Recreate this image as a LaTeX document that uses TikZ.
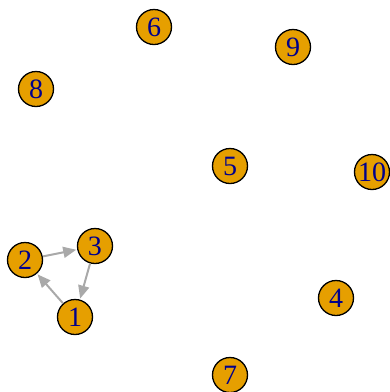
\documentclass[tikz,border=0pt]{standalone}
\usepackage{fontspec}
\setmainfont{Liberation Serif}
\usetikzlibrary{arrows.meta}
\definecolor{vfill}{HTML}{E69F00}
\definecolor{vlab}{RGB}{0,0,139}
\definecolor{egray}{HTML}{A9A9A9}
\begin{document}
\begin{tikzpicture}[x=1pt,y=-1pt,
  vert/.style={circle,draw=black,line width=1.3pt,fill=vfill,minimum size=35pt,inner sep=0pt,text=vlab,font=\fontsize{28}{28}\selectfont},
  edge/.style={draw=egray,line width=2pt,-{Triangle[length=13pt,width=11pt]},shorten >=1pt}]
\useasboundingbox (0,0) rectangle (390,392);
\node[vert] (n1) at (75,317) {1};
\node[vert] (n2) at (25,260) {2};
\node[vert] (n3) at (95,246) {3};
\node[vert] (n4) at (336,298) {4};
\node[vert] (n5) at (230,166) {5};
\node[vert] (n6) at (154,27) {6};
\node[vert] (n7) at (230,375) {7};
\node[vert] (n8) at (36,89) {8};
\node[vert] (n9) at (293,47) {9};
\node[vert] (n10) at (372,172) {10};
\draw[edge] (n1) -- (n2);
\draw[edge] (n2) -- (n3);
\draw[edge] (n3) -- (n1);
\end{tikzpicture}
\end{document}
